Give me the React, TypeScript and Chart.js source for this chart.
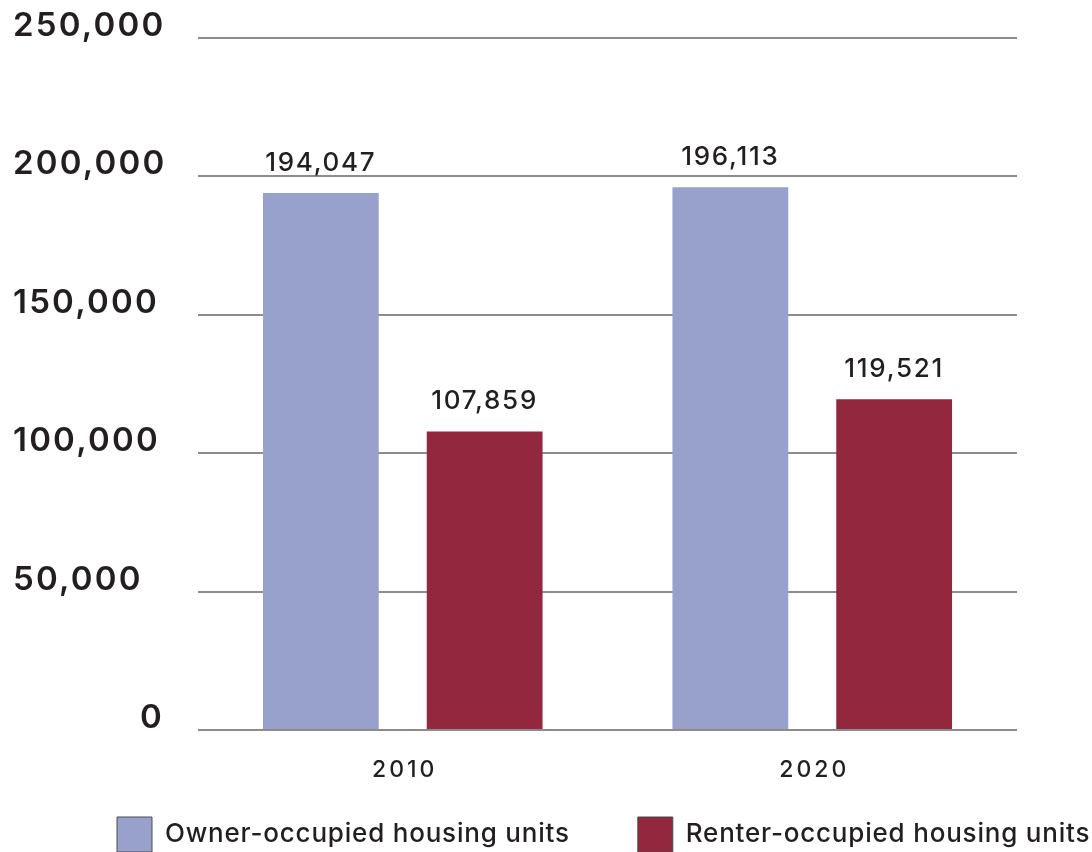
import React, { useEffect, useRef } from "react";
import { Chart, registerables } from "chart.js";

Chart.register(...registerables);

const categories = ["2010", "2020"];
const ownerValues = [194047, 196113];
const renterValues = [107859, 119521];
const seriesLabels = ["Owner-occupied housing units", "Renter-occupied housing units"];
const seriesColors = ["#98a0cc", "#93273d"];
const yMax = 250000;
const yStep = 50000;

const FONT = "Inter";
const TEXT = "#231f20";

const fmt = (v: number) => v.toLocaleString("en-US");

const spacingPlugin = {
  id: "spacing",
  beforeLayout(chart: any) {
    chart.ctx.letterSpacing = "0.8px";
  },
  beforeDraw(chart: any) {
    chart.ctx.letterSpacing = "0.8px";
  },
};

const axisLabelPlugin = {
  id: "axisLabels",
  afterDraw(chart: any) {
    const ctx = chart.ctx;
    const ys = chart.scales.y;
    const xs = chart.scales.x;
    ctx.save();
    ctx.fillStyle = TEXT;
    ctx.letterSpacing = "2.2px";
    ctx.font = `600 33px ${FONT}`;
    ctx.textBaseline = "middle";
    ys.ticks.forEach((t: any) => {
      const y = ys.getPixelForValue(t.value);
      if (t.value === 0) {
        ctx.textAlign = "right";
        ctx.fillText(fmt(t.value), 164, y - 12);
      } else {
        ctx.textAlign = "left";
        ctx.fillText(fmt(t.value), 13, y - 12);
      }
    });
    ctx.letterSpacing = "3px";
    ctx.font = `500 23px ${FONT}`;
    ctx.textAlign = "center";
    ctx.textBaseline = "middle";
    xs.ticks.forEach((t: any, i: number) => {
      const x = xs.getPixelForTick(i);
      ctx.fillText(String(xs.getLabelForValue(t.value)), x + 2, xs.top + 40);
    });
    ctx.restore();
  },
};

const dataLabelPlugin = {
  id: "dataLabels",
  afterDatasetsDraw(chart: any) {
    const ctx = chart.ctx;
    ctx.save();
    ctx.letterSpacing = "1.7px";
    ctx.font = `500 26px ${FONT}`;
    ctx.fillStyle = TEXT;
    ctx.textAlign = "center";
    ctx.textBaseline = "alphabetic";
    chart.data.datasets.forEach((ds: any, i: number) => {
      const meta = chart.getDatasetMeta(i);
      meta.data.forEach((el: any, j: number) => {
        ctx.fillText(fmt(ds.data[j]), el.x, el.y - 22);
      });
    });
    ctx.restore();
  },
};

export default function App() {
  const ref = useRef<HTMLCanvasElement | null>(null);
  useEffect(() => {
    if (!ref.current) return;
    const chart = new Chart(ref.current, {
      type: "bar",
      data: {
        labels: categories,
        datasets: [
          {
            label: seriesLabels[0],
            data: ownerValues,
            backgroundColor: seriesColors[0],
            borderWidth: 0,
            yAxisID: "y",
            categoryPercentage: 0.8,
            barPercentage: 0.707,
          },
          {
            label: seriesLabels[1],
            data: renterValues,
            backgroundColor: seriesColors[1],
            borderWidth: 0,
            yAxisID: "y",
            categoryPercentage: 0.8,
            barPercentage: 0.707,
          },
        ],
      },
      options: {
        animation: false,
        responsive: true,
        maintainAspectRatio: false,
        layout: { padding: { left: 49, top: 38, right: 0, bottom: 0 } },
        scales: {
          x: {
            grid: { display: false, drawTicks: false },
            border: { display: false },
            ticks: { display: false },
            afterFit: (s: any) => {
              s.height = 19;
            },
          },
          y: {
            position: "left",
            min: 0,
            max: yMax,
            ticks: { display: false, stepSize: yStep },
            grid: { color: "#8c8c8c", lineWidth: 2, drawTicks: false },
            border: { display: false },
            afterFit: (s: any) => {
              s.width = 149;
            },
          },
          yR: {
            position: "right",
            display: true,
            grid: { display: false, drawTicks: false },
            ticks: { display: false },
            border: { display: false },
            afterFit: (s: any) => {
              s.width = 183;
            },
          },
        },
        plugins: {
          legend: {
            position: "bottom",
            align: "start",
            labels: {
              boxWidth: 35,
              boxHeight: 35,
              padding: 68,
              color: TEXT,
              font: { family: FONT, size: 26, weight: "500" },
              generateLabels: (c: any) =>
                Chart.defaults.plugins.legend.labels.generateLabels(c).map((it: any) => ({
                  ...it,
                  strokeStyle: "#4d4d4d",
                  lineWidth: 1,
                })),
            },
          },
          tooltip: { enabled: false },
        },
      },
      plugins: [spacingPlugin, axisLabelPlugin, dataLabelPlugin],
    });
    return () => chart.destroy();
  }, []);
  return (
    <div style={{ position: "absolute", left: 0, top: 0, width: 1092, height: 852, overflow: "hidden", background: "#fff" }}>
      <div style={{ position: "relative", width: 1200, height: 862 }}>
        <canvas ref={ref} />
      </div>
    </div>
  );
}
